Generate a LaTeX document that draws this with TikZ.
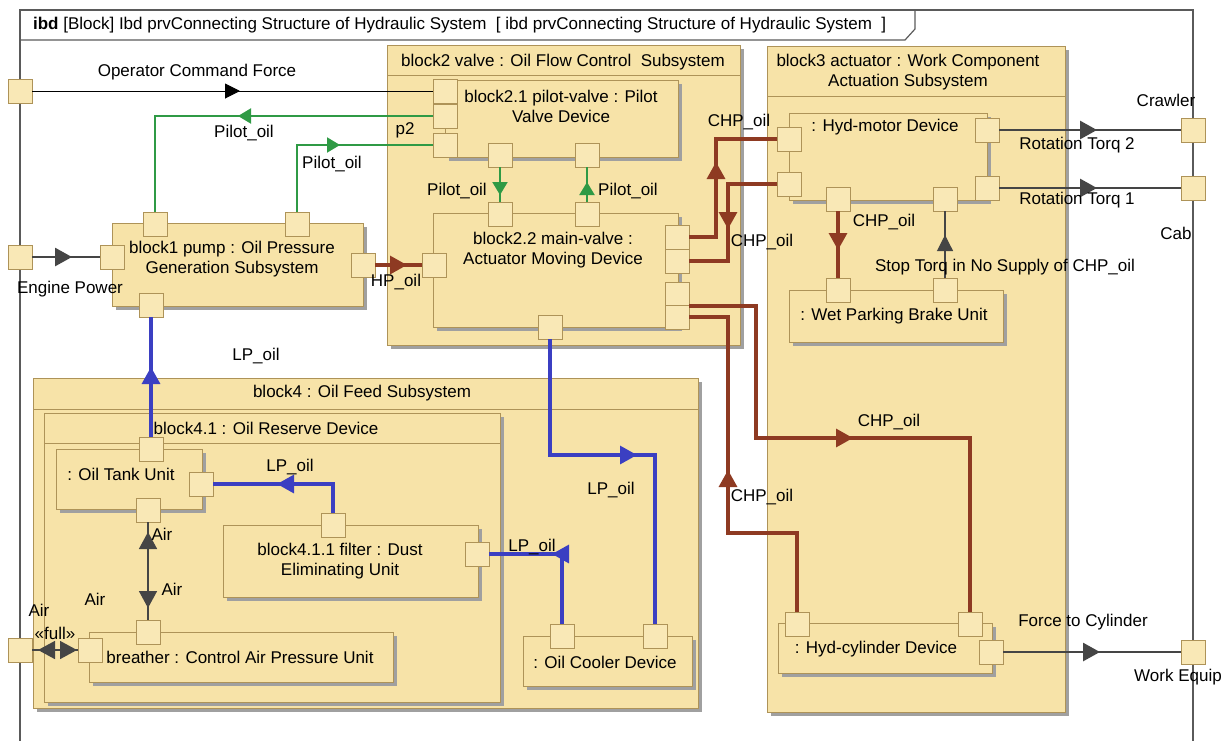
\documentclass[tikz,border=0pt]{standalone}
\usepackage{fontspec}
\setmainfont{Liberation Sans}
\usetikzlibrary{arrows.meta,positioning,shadows,decorations.markings}

\definecolor{boxfill}{HTML}{F7E3A8}
\definecolor{portfill}{HTML}{F9E8B6}
\definecolor{boxline}{HTML}{AE9358}
\definecolor{shadowgray}{HTML}{A0A0A0}
\definecolor{oilred}{HTML}{8E3A22}
\definecolor{oilgreen}{HTML}{2F9A45}
\definecolor{oilblue}{HTML}{3B3FC2}
\definecolor{sigdark}{HTML}{454545}
\definecolor{framegray}{HTML}{5A5A5A}

\tikzset{
  >={Triangle[length=8.5pt,width=9pt]},
  blockbox/.style={draw=boxline, fill=boxfill, inner sep=0pt, outer sep=0pt,
    drop shadow={shadow xshift=2pt, shadow yshift=-2pt, fill=shadowgray, opacity=1}},
  portbox/.style={draw=boxline, fill=portfill, minimum size=12pt, inner sep=0pt, outer sep=0pt},
  flow/.style={postaction={decorate}, decoration={markings,
    mark=at position #1 with {\arrow{>}}}},
  twoflow/.style 2 args={postaction={decorate}, decoration={markings,
    mark=at position #1 with {\arrowreversed{>}},
    mark=at position #2 with {\arrow{>}}}},
  opline/.style={draw=black, line width=0.5pt, >={Triangle[length=7.5pt,width=7.5pt]}},
  pilotline/.style={draw=oilgreen, line width=1pt, >={Triangle[length=6.5pt,width=7.5pt]}},
  hpline/.style={draw=oilred, line width=1.6pt},
  lpline/.style={draw=oilblue, line width=1.6pt},
  sigline/.style={draw=sigdark, line width=1.4pt},
  thinsig/.style={draw=sigdark, line width=0.6pt, >={Triangle[length=8pt,width=8pt]}},
}

\begin{document}
\begin{tikzpicture}[x=0.5pt, y=-0.5pt, font=\fontsize{8.5}{10}\selectfont]
\useasboundingbox (0,0) rectangle (1229,740);

% diagram frame and header tab
\draw[framegray, line width=0.6pt] (20,760) -- (20,10) -- (1193,10) -- (1193,760);
\draw[framegray, line width=0.6pt] (20,40) -- (905,40) -- (915,29) -- (915,10);
\node[anchor=west] (hdr) at (26,25) {\textbf{ibd} [Block] Ibd prvConnecting Structure of Hydraulic System \ [ ibd prvConnecting Structure of Hydraulic System \ ]};

% subsystem blocks
\node[blockbox, minimum width=176.5pt, minimum height=150pt] (valve) at (563.5,195) {};
\draw[boxline] ([yshift=-15pt]valve.north west) -- ([yshift=-15pt]valve.north east);
\node (valvetitle) at (563,62) {block2 valve : Oil Flow Control \ Subsystem};

\node[blockbox, minimum width=149pt, minimum height=333pt] (actuator) at (916,379) {};
\draw[boxline] ([yshift=-25pt]actuator.north west) -- ([yshift=-25pt]actuator.north east);
\node[align=center] (actuatortitle) at (908,72) {block3 actuator : Work Component\\Actuation Subsystem};

\node[blockbox, minimum width=332.5pt, minimum height=165pt] (feed) at (365.5,543) {};
\draw[boxline] ([yshift=-15.5pt]feed.north west) -- ([yshift=-15.5pt]feed.north east);
\node (feedtitle) at (362,393) {block4 : Oil Feed Subsystem};

\node[blockbox, minimum width=228pt, minimum height=144.5pt] (reserve) at (272,557.5) {};
\draw[boxline] ([yshift=-15pt]reserve.north west) -- ([yshift=-15pt]reserve.north east);
\node (reservetitle) at (266,428) {block4.1 : Oil Reserve Device};

\node[blockbox, minimum width=125.5pt, minimum height=41.5pt] (pump) at (237.5,264.5) {};
\node[align=center] (pumptitle) at (232,259) {block1 pump : Oil Pressure\\Generation Subsystem};

% parts
\node[blockbox, minimum width=116.5pt, minimum height=38.5pt] (pilot) at (561.5,118.5) {};
\node[align=center] (pilottitle) at (561,106) {block2.1 pilot-valve : Pilot\\Valve Device};
\node[blockbox, minimum width=122.5pt, minimum height=57pt] (main) at (555.5,270) {};
\node[align=center] (maintitle) at (553,250) {block2.2 main-valve :\\Actuator Moving Device};

\node[blockbox, minimum width=73pt, minimum height=30pt] (tank) at (129,479) {};
\node (tanktitle) at (121,474) {: Oil Tank Unit};
\node[blockbox, minimum width=127.5pt, minimum height=36pt] (filter) at (350.5,561) {};
\node[align=center] (filtertitle) at (340,561) {block4.1.1 filter : Dust\\Eliminating Unit};
\node[blockbox, minimum width=152pt, minimum height=25pt] (breather) at (241,657) {};
\node (breathertitle) at (240,657) {breather : Control Air Pressure Unit};
\node[blockbox, minimum width=84.5pt, minimum height=25pt] (cooler) at (607.5,661) {};
\node (coolertitle) at (605,662) {: Oil Cooler Device};

\node[blockbox, minimum width=99pt, minimum height=43.5pt] (motor) at (888,156.5) {};
\node (motortitle) at (885,127) {: Hyd-motor Device};
\node[blockbox, minimum width=107pt, minimum height=26pt] (brake) at (896,316) {};
\node (braketitle) at (894,316) {: Wet Parking Brake Unit};
\node[blockbox, minimum width=107pt, minimum height=25pt] (cylinder) at (885,648) {};
\node (cylindertitle) at (876,649) {: Hyd-cylinder Device};

% ports
\node[portbox] (opport) at (20,91) {};
\node[portbox] (engport) at (20,257) {};
\node[portbox] (airport) at (20,650) {};
\node[portbox] (crawler) at (1193,130) {};
\node[portbox] (cab) at (1193,188) {};
\node[portbox] (workeq) at (1193,652) {};

\node[portbox] (pv1) at (445,91) {};
\node[portbox] (pv2) at (445,116) {};
\node[portbox] (pv3) at (445,145) {};
\node[portbox] (pvB1) at (500,155) {};
\node[portbox] (pvB2) at (587,155) {};
\node[portbox] (mvT1) at (500,214) {};
\node[portbox] (mvT2) at (587,214) {};
\node[portbox] (mvL) at (434,265) {};
\node[portbox] (mvR1) at (677,237) {};
\node[portbox] (mvR2) at (677,261) {};
\node[portbox] (mvR3) at (677,294) {};
\node[portbox] (mvR4) at (677,317) {};
\node[portbox] (mvB) at (550,327) {};

\node[portbox] (pmpT1) at (155,224) {};
\node[portbox] (pmpT2) at (297,224) {};
\node[portbox] (pmpL) at (112,257) {};
\node[portbox] (pmpR) at (363,265) {};
\node[portbox] (pmpB) at (151,305) {};

\node[portbox] (tankT) at (151,449) {};
\node[portbox] (tankR) at (201,484) {};
\node[portbox] (tankB) at (148,510) {};
\node[portbox] (filT) at (333,525) {};
\node[portbox] (filR) at (477,554) {};
\node[portbox] (brT) at (148,632) {};
\node[portbox] (brL) at (90,650) {};
\node[portbox] (coT1) at (562,636) {};
\node[portbox] (coT2) at (655,636) {};

\node[portbox] (mhL1) at (789,139) {};
\node[portbox] (mhL2) at (789,184) {};
\node[portbox] (mhR1) at (987,130) {};
\node[portbox] (mhR2) at (987,188) {};
\node[portbox] (mhB1) at (838,199) {};
\node[portbox] (mhB2) at (945,199) {};
\node[portbox] (wpT1) at (838,290) {};
\node[portbox] (wpT2) at (945,290) {};
\node[portbox] (cyT1) at (797,624) {};
\node[portbox] (cyT2) at (970,624) {};
\node[portbox] (cyR) at (991,652) {};

% connectors
\draw[opline, flow=104pt] (opport) -- (pv1);
\draw[pilotline, flow=97.5pt] (pv2) -| (pmpT1);
\draw[pilotline, flow=55pt] (pmpT2) |- (pv3);
\draw[pilotline, flow=14pt] (pvB1) -- (mvT1);
\draw[pilotline, flow=10pt] (mvT2) -- (pvB2);
\draw[sigline, flow=20pt] (engport) -- (pmpL);
\draw[hpline, flow=16pt] (pmpR) -- (mvL);

\draw[hpline, flow=51pt] (mvR1) -- ++(39,0) |- (mhL1);
\draw[hpline, flow=47pt] (mhL2) -- ++(-61,0) |- (mvR2);
\draw[hpline, flow=148pt] (mvR3.south east) -- ++(67,0) -- ++(0,132) -| (cyT2);
\draw[hpline, flow=105.5pt] (cyT1) -- ++(0,-91) -- ++(-69,0) |- (mvR4);
\draw[hpline, flow=19.5pt] (mhB1) -- (wpT1);
\draw[thinsig, flow=21.5pt] (wpT2) -- (mhB2);

\draw[sigline, flow=49pt] (mhR1) -- (crawler);
\draw[sigline, flow=49pt] (mhR2) -- (cab);
\draw[sigline, flow=48.5pt] (cyR) -- (workeq);

\draw[lpline, flow=35pt] (tankT) -- (pmpB);
\draw[lpline, flow=42.5pt] (filT) |- (tankR);
\draw[lpline, flow=40pt] (coT1) |- (filR);
\draw[lpline, flow=101.5pt] (mvB) -- ++(0,128) -| (coT2);

\draw[sigline, line width=0.8pt, twoflow={5pt}{43pt}] (tankB) -- (brT);
\draw[sigline, line width=0.8pt, twoflow={3pt}{22.5pt}] (airport) -- (brL);

% connector labels
\node (lblop) at (197,72) {Operator Command Force};
\node (lblpilot1) at (244,133) {Pilot\_oil};
\node (lblpilot2) at (332,164) {Pilot\_oil};
\node (lblp2) at (405,130) {p2};
\node (lblpilot3) at (457,191) {Pilot\_oil};
\node (lblpilot4) at (628,191) {Pilot\_oil};
\node (lblengine) at (70,289) {Engine Power};
\node (lblhp) at (396,282) {HP\_oil};
\node (lbllp1) at (256,356) {LP\_oil};
\node (lbllp2) at (290,467) {LP\_oil};
\node (lbllp3) at (532,547) {LP\_oil};
\node (lbllp4) at (611,490) {LP\_oil};
\node (lblair1) at (162,534) {Air};
\node (lblair2) at (172,589) {Air};
\node (lblair3) at (95,599) {Air};
\node (lblair4) at (39,610) {Air};
\node (lblfull) at (55,633) {«full»};
\node (lblchp1) at (739,122) {CHP\_oil};
\node (lblchp2) at (762,242) {CHP\_oil};
\node (lblchp3) at (884,222) {CHP\_oil};
\node (lblchp4) at (889,422) {CHP\_oil};
\node (lblchp5) at (762,497) {CHP\_oil};
\node (lblstop) at (1005,267) {Stop Torq in No Supply of CHP\_oil};
\node (lblrot2) at (1077,145) {Rotation Torq 2};
\node (lblrot1) at (1077,200) {Rotation Torq 1};
\node (lblforce) at (1083,622) {Force to Cylinder};
\node (lblcrawler) at (1166,100) {Crawler};
\node (lblcab) at (1176,233) {Cab};
\node (lblwork) at (1178,677) {Work Equip};
\end{tikzpicture}
\end{document}
